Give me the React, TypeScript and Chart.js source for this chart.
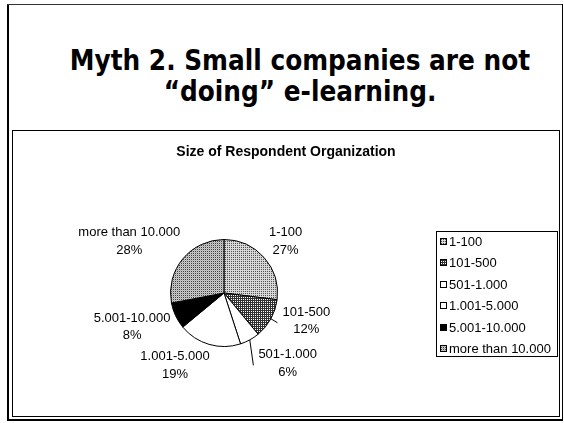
import React, { useEffect, useRef } from "react";
import { Chart, registerables } from "chart.js";

Chart.register(...registerables);

const categories = ["1-100", "101-500", "501-1.000", "1.001-5.000", "5.001-10.000", "more than 10.000"];
const shares = [27, 12, 6, 19, 8, 28];
const chartTitle = "Size of Respondent Organization";
const slideTitleLines = ["Myth 2. Small companies are not", "\u201Cdoing\u201D e-learning."];

// label placement tweaks (layout only)
const labelNudgeX = [0, 4, 18, -21, 2, -5];
const labelNudgeY = [3, -12, -2, -7, -1, 1];
const showLeader = [false, true, true, false, false, false];

function makePattern(base: string, cells: [number, number, string][], size = 2): CanvasPattern | string {
  const c = document.createElement("canvas");
  c.width = size;
  c.height = size;
  const g = c.getContext("2d");
  if (!g) return base;
  g.fillStyle = base;
  g.fillRect(0, 0, size, size);
  cells.forEach(([x, y, col]) => {
    g.fillStyle = col;
    g.fillRect(x, y, 1, 1);
  });
  return g.createPattern(c, "repeat") || base;
}

const FONT = "'Liberation Sans', Arial, Helvetica, sans-serif";

export default function App() {
  const ref = useRef<HTMLCanvasElement | null>(null);

  useEffect(() => {
    const canvas = ref.current;
    if (!canvas) return;
    const fills = [
      makePattern("#d8d8d8", [[0, 0, "#505050"]]),
      makePattern("#303030", [[0, 0, "#ffffff"]]),
      "#ffffff",
      "#ffffff",
      "#000000",
      makePattern("#cccccc", [[0, 0, "#404040"], [1, 1, "#b0b0b0"]]),
    ];

    const overlay = {
      id: "overlay",
      afterDraw(chart: any) {
        const ctx: CanvasRenderingContext2D = chart.ctx;
        const meta = chart.getDatasetMeta(0);
        ctx.save();
        ctx.fillStyle = "#000";
        ctx.textAlign = "center";
        ctx.textBaseline = "middle";
        ctx.font = `bold 14px ${FONT}`;
        ctx.fillText(chartTitle, chart.width / 2, 21);

        ctx.font = `13px ${FONT}`;
        let pcx = 0;
        let pcy = 0;
        meta.data.forEach((arc: any, i: number) => {
          const p = arc.getProps(["x", "y", "startAngle", "endAngle", "outerRadius"], true);
          pcx = p.x;
          pcy = p.y;
          const mid = (p.startAngle + p.endAngle) / 2;
          const dx = Math.cos(mid);
          const dy = Math.sin(mid);
          const l1 = categories[i];
          const l2 = `${shares[i]}%`;
          const w = Math.max(ctx.measureText(l1).width, ctx.measureText(l2).width);
          const h = 34;
          const ax = p.x + (p.outerRadius + 12) * dx;
          const ay = p.y + (p.outerRadius + 12) * dy;
          const cx = ax + (dx * w) / 2 + labelNudgeX[i];
          const cy = ay + (dy * h) / 2 + labelNudgeY[i];
          ctx.fillStyle = "#000";
          ctx.fillText(l1, cx, cy - 8.75);
          ctx.fillText(l2, cx, cy + 8.75);
          if (showLeader[i]) {
            ctx.beginPath();
            ctx.strokeStyle = "#000";
            ctx.lineWidth = 1;
            ctx.moveTo(p.x + p.outerRadius * dx, p.y + p.outerRadius * dy);
            ctx.lineTo(cx - w / 2 - 5, cy + 2);
            ctx.stroke();
          }
        });

        // legend
        ctx.font = `13px ${FONT}`;
        ctx.textAlign = "left";
        let maxW = 0;
        categories.forEach((c) => {
          maxW = Math.max(maxW, ctx.measureText(c).width);
        });
        const lw = Math.round(13 + maxW + 6);
        const lh = 125;
        const rowH = 21.4;
        const lx = chart.width - 2 - lw;
        const ly = Math.round(pcy - lh / 2);
        ctx.strokeStyle = "#000";
        ctx.lineWidth = 1;
        ctx.strokeRect(lx + 0.5, ly + 0.5, lw, lh);
        categories.forEach((c, i) => {
          const ry = Math.round(ly + 10 + i * rowH);
          ctx.fillStyle = fills[i] as any;
          ctx.fillRect(lx + 4, ry - 3, 7, 7);
          ctx.strokeStyle = "#000";
          ctx.strokeRect(lx + 4.5, ry - 2.5, 6, 6);
          ctx.fillStyle = "#000";
          ctx.fillText(c, lx + 13, ry + 1);
        });
        ctx.restore();
      },
    };

    const chart = new Chart(canvas, {
      type: "pie",
      data: {
        labels: categories,
        datasets: [
          {
            data: shares,
            backgroundColor: fills as any,
            borderColor: "#000",
            borderWidth: 1,
          },
        ],
      },
      options: {
        responsive: false,
        animation: false,
        devicePixelRatio: 1,
        layout: { padding: { left: 157, right: 281, top: 108, bottom: 69 } },
        plugins: {
          legend: { display: false },
          title: { display: false },
          tooltip: { enabled: false },
        },
      },
      plugins: [overlay],
    });
    return () => chart.destroy();
  }, []);

  return (
    <div style={{ position: "fixed", left: 0, top: 0, width: 564, height: 423, background: "#fff", overflow: "hidden" }}>
      {/* outer slide frame */}
      <div style={{ position: "absolute", left: 7, top: 4, width: 2, height: 417, background: "#000" }} />
      <div style={{ position: "absolute", left: 7, top: 4, width: 556, height: 1, background: "#333" }} />
      <div style={{ position: "absolute", left: 562, top: 4, width: 1, height: 417, background: "#000" }} />
      <div style={{ position: "absolute", left: 7, top: 419, width: 556, height: 2, background: "#000" }} />
      {/* slide title */}
      <div
        style={{
          position: "absolute",
          left: 36,
          top: 45,
          width: 528,
          textAlign: "center",
          fontFamily: "'DejaVu Sans', Verdana, sans-serif",
          fontWeight: "bold",
          fontSize: 28,
          lineHeight: "31px",
          color: "#000",
          whiteSpace: "nowrap",
          transform: "scaleX(0.887)",
          transformOrigin: "50% 0",
        }}
      >
        {slideTitleLines[0]}
        <br />
        {slideTitleLines[1]}
      </div>
      {/* chart box */}
      <div style={{ position: "absolute", left: 12, top: 130, width: 548, height: 287, border: "1px solid #000", boxSizing: "border-box" }} />
      <canvas ref={ref} width={546} height={285} style={{ position: "absolute", left: 13, top: 131, width: 546, height: 285 }} />
    </div>
  );
}
